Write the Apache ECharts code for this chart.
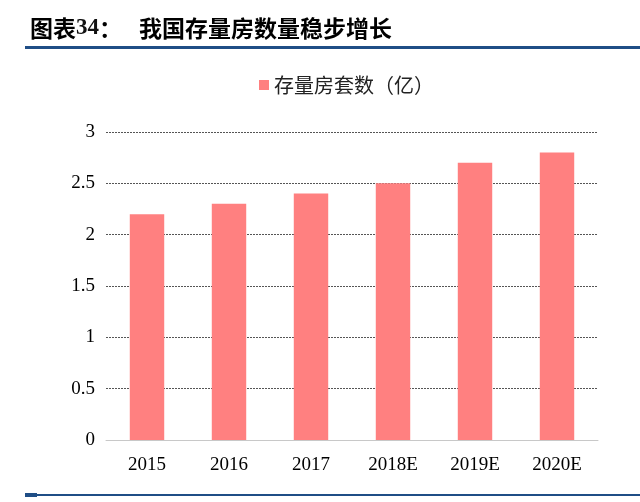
<!DOCTYPE html>
<html><head><meta charset="utf-8">
<script src="https://cdn.jsdelivr.net/npm/echarts@6/dist/echarts.min.js"></script>
<style>html,body{margin:0;padding:0;background:#fff}#c{width:640px;height:502px}</style>
</head><body><div id="c"></div>
<script>
var categories = ['2015', '2016', '2017', '2018E', '2019E', '2020E'];
var values = [2.2, 2.3, 2.4, 2.5, 2.7, 2.8];
var seriesName = '存量房套数（亿）';
var chart = echarts.init(document.getElementById('c'));
chart.setOption({
  animation: false,
  graphic: [
    {type: 'text', left: 30, top: 17, style: {
      text: '{a|图表}{b|34}{a|：}',
      rich: {
        a: {font: 'bold 23px "Noto Sans CJK SC", sans-serif', fill: '#000'},
        b: {font: 'bold 23px "Liberation Serif", serif', fill: '#111'}
      }
    }},
    {type: 'text', left: 139, top: 17, style: {text: '我国存量房数量稳步增长', font: 'bold 23px "Noto Sans CJK SC", sans-serif', fill: '#000'}},
    {type: 'rect', shape: {x: 25, y: 46, width: 615, height: 3}, style: {fill: '#1F4E86'}},
    {type: 'rect', shape: {x: 25, y: 494, width: 615, height: 2}, style: {fill: '#1F4E86'}},
    {type: 'rect', shape: {x: 25, y: 493, width: 12, height: 4}, style: {fill: '#1F4E86'}}
  ],
  legend: {
    top: 70, left: 254,
    itemWidth: 10, itemHeight: 10, itemGap: 5,
    icon: 'rect',
    textStyle: {fontFamily: '"Noto Sans CJK SC", serif', fontSize: 20, color: '#222'},
    data: [seriesName]
  },
  grid: {left: 106, right: 42, top: 132, bottom: 62},
  xAxis: {
    type: 'category', data: categories,
    axisLine: {lineStyle: {color: '#c8c8c8', width: 1}},
    axisTick: {show: false},
    axisLabel: {fontFamily: '"Liberation Serif", serif', fontSize: 19, color: '#000', margin: 16}
  },
  yAxis: {
    type: 'value', min: 0, max: 3, interval: 0.5,
    axisLine: {show: false}, axisTick: {show: false},
    axisLabel: {fontFamily: '"Liberation Serif", serif', fontSize: 19, color: '#000', margin: 11},
    splitLine: {lineStyle: {color: '#555', type: [2, 1], width: 1}}
  },
  series: [{
    name: seriesName, type: 'bar', data: values, barWidth: '42%',
    itemStyle: {color: '#FF8080'}
  }]
});
</script></body></html>
